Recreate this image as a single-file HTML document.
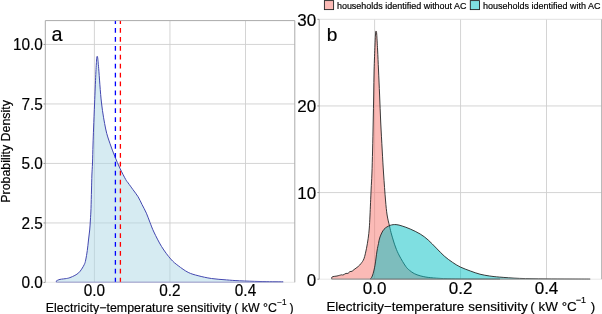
<!DOCTYPE html>
<html lang="en"><head><meta charset="utf-8"><title>Electricity-temperature sensitivity density</title>
<style>
html,body{margin:0;padding:0;background:#fff;}
body{width:602px;height:314px;overflow:hidden;}
svg{display:block;}
text{font-family:'Liberation Sans', sans-serif;fill:#000;stroke:#000;stroke-width:0.18px;}
.grid{stroke:#cfcfcf;stroke-width:0.9;fill:none;}
.border{stroke:#aaaaaa;stroke-width:1;fill:none;}
.tk{stroke:#8c8c8c;stroke-width:0.9;fill:none;}
</style></head><body>
<svg width="602" height="314" viewBox="0 0 602 314">
<rect x="0" y="0" width="602" height="314" fill="#fff"/>

<g class="grid">
<line x1="94.40" y1="20.6" x2="94.40" y2="282.3"/>
<line x1="169.95" y1="20.6" x2="169.95" y2="282.3"/>
<line x1="245.50" y1="20.6" x2="245.50" y2="282.3"/>
<line x1="45.3" y1="222.95" x2="294.8" y2="222.95"/>
<line x1="45.3" y1="163.45" x2="294.8" y2="163.45"/>
<line x1="45.3" y1="103.95" x2="294.8" y2="103.95"/>
<line x1="45.3" y1="44.45" x2="294.8" y2="44.45"/>
</g>
<path d="M56.30,281.00 C56.40,280.93 56.28,280.87 56.90,280.60 C57.52,280.33 58.38,279.75 60.00,279.40 C61.62,279.05 64.93,278.80 66.60,278.50 C68.27,278.20 68.62,278.12 70.00,277.60 C71.38,277.08 73.45,276.20 74.90,275.40 C76.35,274.60 77.58,273.83 78.70,272.80 C79.82,271.77 80.65,270.62 81.60,269.20 C82.55,267.78 83.72,265.83 84.40,264.30 C85.08,262.77 85.22,262.30 85.70,260.00 C86.18,257.70 86.83,253.83 87.30,250.50 C87.77,247.17 88.10,243.42 88.50,240.00 C88.90,236.58 89.38,233.33 89.70,230.00 C90.02,226.67 90.18,223.57 90.40,220.00 C90.62,216.43 90.82,213.60 91.00,208.60 C91.18,203.60 91.35,195.60 91.50,190.00 C91.65,184.40 91.73,179.50 91.90,175.00 C92.07,170.50 92.32,168.00 92.50,163.00 C92.68,158.00 92.82,150.83 93.00,145.00 C93.18,139.17 93.33,135.00 93.60,128.00 C93.87,121.00 94.23,111.93 94.60,103.00 C94.97,94.07 95.47,81.57 95.80,74.40 C96.13,67.23 96.37,63.02 96.60,60.00 C96.83,56.98 96.98,56.38 97.20,56.30 C97.42,56.22 97.65,57.43 97.90,59.50 C98.15,61.57 98.10,61.45 98.70,68.70 C99.30,75.95 100.33,92.95 101.50,103.00 C102.67,113.05 104.30,122.28 105.70,129.00 C107.10,135.72 108.37,138.70 109.90,143.30 C111.43,147.90 113.23,152.45 114.90,156.60 C116.57,160.75 118.10,164.38 119.90,168.20 C121.70,172.02 124.32,177.03 125.70,179.50 C127.08,181.97 126.98,181.30 128.20,183.00 C129.42,184.70 131.35,187.40 133.00,189.70 C134.65,192.00 136.60,194.33 138.10,196.80 C139.60,199.27 140.62,201.77 142.00,204.50 C143.38,207.23 145.07,210.20 146.40,213.20 C147.73,216.20 148.75,219.37 150.00,222.50 C151.25,225.63 151.97,227.98 153.90,232.00 C155.83,236.02 158.80,242.10 161.60,246.60 C164.40,251.10 167.93,255.82 170.70,259.00 C173.47,262.18 175.28,263.47 178.20,265.70 C181.12,267.93 184.88,270.73 188.20,272.40 C191.52,274.07 194.23,274.68 198.10,275.70 C201.97,276.72 206.68,277.80 211.40,278.50 C216.12,279.20 221.68,279.52 226.40,279.90 C231.12,280.28 234.10,280.53 239.70,280.80 C245.30,281.07 252.77,281.33 260.00,281.50 C267.23,281.67 279.25,281.75 283.10,281.80 L283.1,282.3 L56.3,282.3 Z" fill="#add8e6" fill-opacity="0.5" stroke="#4347b0" stroke-width="1.0" stroke-linejoin="miter"/>
<line x1="115.4" y1="19.2" x2="115.4" y2="282.3" stroke="#0000ff" stroke-width="1.3" stroke-dasharray="4.7 4.216"/>
<line x1="120.4" y1="19.2" x2="120.4" y2="282.3" stroke="#ff0000" stroke-width="1.3" stroke-dasharray="4.7 4.216"/>
<rect x="0" y="0" width="310" height="20.6" fill="#fff"/>
<line x1="45.3" y1="282.3" x2="294.8" y2="282.3" stroke="#e2e2e2" stroke-width="0.8"/>
<path class="border" d="M45.3,282.3 V20.6 H294.8 V282.3"/>
<line class="tk" x1="43.5" y1="282.45" x2="45.3" y2="282.45"/>
<line class="tk" x1="43.5" y1="222.95" x2="45.3" y2="222.95"/>
<line class="tk" x1="43.5" y1="163.45" x2="45.3" y2="163.45"/>
<line class="tk" x1="43.5" y1="103.95" x2="45.3" y2="103.95"/>
<line class="tk" x1="43.5" y1="44.45" x2="45.3" y2="44.45"/>
<text transform="translate(42.90,288.40) scale(0.985,1)" font-size="15.6px" text-anchor="end">0.0</text>
<text transform="translate(42.90,228.90) scale(0.985,1)" font-size="15.6px" text-anchor="end">2.5</text>
<text transform="translate(42.90,169.40) scale(0.985,1)" font-size="15.6px" text-anchor="end">5.0</text>
<text transform="translate(42.90,109.90) scale(0.985,1)" font-size="15.6px" text-anchor="end">7.5</text>
<text transform="translate(42.90,50.40) scale(0.985,1)" font-size="15.6px" text-anchor="end">10.0</text>
<text transform="translate(94.40,296.30) scale(0.985,1)" font-size="15.6px" text-anchor="middle">0.0</text>
<text transform="translate(169.95,296.30) scale(0.985,1)" font-size="15.6px" text-anchor="middle">0.2</text>
<text transform="translate(245.50,296.30) scale(0.985,1)" font-size="15.6px" text-anchor="middle">0.4</text>
<text transform="translate(51.60,41.30) scale(1.0,1)" font-size="19.8px" text-anchor="start">a</text>
<text transform="translate(9.5,151.4) rotate(-90) scale(1,0.96)" font-size="12.4px" text-anchor="middle">Probability Density</text>
<text transform="translate(45.70,311.50) scale(1.0,1)" font-size="12.36px" text-anchor="start" xml:space="preserve"><tspan letter-spacing="0.05">Electricity−temperature</tspan><tspan letter-spacing="0.05"> sensitivity</tspan><tspan dx="-0.35"> ( kW °C</tspan><tspan dy="-6.9" dx="0.3" font-size="8.2px">−1</tspan><tspan dy="6.9" dx="-0.5"> )</tspan></text>
<g class="grid">
<line x1="374.60" y1="19.3" x2="374.60" y2="279.2"/>
<line x1="460.55" y1="19.3" x2="460.55" y2="279.2"/>
<line x1="546.50" y1="19.3" x2="546.50" y2="279.2"/>
<line x1="319.2" y1="192.57" x2="601.7" y2="192.57"/>
<line x1="319.2" y1="105.94" x2="601.7" y2="105.94"/>
<line x1="319.2" y1="19.31" x2="601.7" y2="19.31" stroke="#dcdcdc"/>
</g>
<path d="M331.70,277.40 C331.92,277.27 332.12,276.83 333.00,276.60 C333.88,276.37 335.57,276.30 337.00,276.00 C338.43,275.70 340.60,274.97 341.60,274.80 C342.60,274.63 342.27,275.23 343.00,275.00 C343.73,274.77 345.17,273.67 346.00,273.40 C346.83,273.13 347.35,273.70 348.00,273.40 C348.65,273.10 349.23,271.95 349.90,271.60 C350.57,271.25 351.32,271.63 352.00,271.30 C352.68,270.97 352.97,270.40 354.00,269.60 C355.03,268.80 357.03,267.52 358.20,266.50 C359.37,265.48 360.03,264.82 361.00,263.50 C361.97,262.18 363.08,261.13 364.00,258.60 C364.92,256.07 365.80,251.68 366.50,248.30 C367.20,244.92 367.73,241.68 368.20,238.30 C368.67,234.92 369.00,231.88 369.30,228.00 C369.60,224.12 369.70,221.33 370.00,215.00 C370.30,208.67 370.78,196.83 371.10,190.00 C371.42,183.17 371.65,180.67 371.90,174.00 C372.15,167.33 372.38,158.67 372.60,150.00 C372.82,141.33 373.02,131.17 373.20,122.00 C373.38,112.83 373.55,103.67 373.70,95.00 C373.85,86.33 373.88,78.33 374.10,70.00 C374.32,61.67 374.75,51.17 375.00,45.00 C375.25,38.83 375.42,35.30 375.60,33.00 C375.78,30.70 375.92,31.03 376.10,31.20 C376.28,31.37 376.45,30.87 376.70,34.00 C376.95,37.13 377.30,44.00 377.60,50.00 C377.90,56.00 378.17,62.50 378.50,70.00 C378.83,77.50 379.23,86.33 379.60,95.00 C379.97,103.67 380.27,112.83 380.70,122.00 C381.13,131.17 381.72,141.33 382.20,150.00 C382.68,158.67 383.05,165.67 383.60,174.00 C384.15,182.33 384.92,193.17 385.50,200.00 C386.08,206.83 386.43,210.67 387.10,215.00 C387.77,219.33 388.73,222.67 389.50,226.00 C390.27,229.33 390.70,231.50 391.70,235.00 C392.70,238.50 394.20,243.50 395.50,247.00 C396.80,250.50 397.82,252.80 399.50,256.00 C401.18,259.20 403.92,263.80 405.60,266.20 C407.28,268.60 408.15,269.17 409.60,270.40 C411.05,271.63 412.53,272.70 414.30,273.60 C416.07,274.50 417.88,275.17 420.20,275.80 C422.52,276.43 424.90,276.97 428.20,277.40 C431.50,277.83 435.40,278.15 440.00,278.40 C444.60,278.65 449.13,278.78 455.80,278.90 C462.47,279.02 472.63,279.05 480.00,279.10 C487.37,279.15 496.67,279.18 500.00,279.20 L331.7,279.2 Z" fill="#f8766d" fill-opacity="0.5" stroke="#262626" stroke-width="0.9" stroke-linejoin="miter"/>
<path d="M370.10,279.20 C370.33,278.93 371.00,278.53 371.50,277.60 C372.00,276.67 372.52,275.67 373.10,273.60 C373.68,271.53 374.35,268.97 375.00,265.20 C375.65,261.43 376.42,254.62 377.00,251.00 C377.58,247.38 378.00,245.83 378.50,243.50 C379.00,241.17 379.08,239.37 380.00,237.00 C380.92,234.63 382.32,231.23 384.00,229.30 C385.68,227.37 388.08,226.18 390.10,225.40 C392.12,224.62 394.10,224.50 396.10,224.60 C398.10,224.70 399.75,225.27 402.10,226.00 C404.45,226.73 407.18,227.67 410.20,229.00 C413.22,230.33 417.20,232.17 420.20,234.00 C423.20,235.83 425.52,237.65 428.20,240.00 C430.88,242.35 433.62,245.42 436.30,248.10 C438.98,250.78 441.63,253.75 444.30,256.10 C446.97,258.45 449.63,260.38 452.30,262.20 C454.97,264.02 457.28,265.53 460.30,267.00 C463.32,268.47 467.12,269.80 470.40,271.00 C473.68,272.20 476.78,273.37 480.00,274.20 C483.22,275.03 486.42,275.52 489.70,276.00 C492.98,276.48 494.72,276.70 499.70,277.10 C504.68,277.50 512.05,278.10 519.60,278.40 C527.15,278.70 536.60,278.78 545.00,278.90 C553.40,279.02 562.47,279.05 570.00,279.10 C577.53,279.15 586.83,279.18 590.20,279.20 Z" fill="#00bfc4" fill-opacity="0.5" stroke="#262626" stroke-width="0.9" stroke-linejoin="miter"/>
<line x1="319.2" y1="279.2" x2="601.7" y2="279.2" stroke="#e2e2e2" stroke-width="0.8"/>
<path class="border" d="M319.2,279.2 V19.3 M601.7,19.3 V279.2"/>
<line class="tk" x1="317.4" y1="279.20" x2="319.2" y2="279.20"/>
<line class="tk" x1="317.4" y1="192.57" x2="319.2" y2="192.57"/>
<line class="tk" x1="317.4" y1="105.94" x2="319.2" y2="105.94"/>
<line class="tk" x1="317.4" y1="19.31" x2="319.2" y2="19.31"/>
<text transform="translate(316.10,285.70) scale(1.0,1)" font-size="17.0px" text-anchor="end">0</text>
<text transform="translate(316.10,199.07) scale(1.0,1)" font-size="17.0px" text-anchor="end">10</text>
<text transform="translate(316.10,112.44) scale(1.0,1)" font-size="17.0px" text-anchor="end">20</text>
<text transform="translate(316.10,25.81) scale(1.0,1)" font-size="17.0px" text-anchor="end">30</text>
<text transform="translate(374.60,294.00) scale(1.0,1)" font-size="17.0px" text-anchor="middle">0.0</text>
<text transform="translate(460.55,294.00) scale(1.0,1)" font-size="17.0px" text-anchor="middle">0.2</text>
<text transform="translate(546.50,294.00) scale(1.0,1)" font-size="17.0px" text-anchor="middle">0.4</text>
<text transform="translate(326.70,41.40) scale(1.0,1)" font-size="19.1px" text-anchor="start">b</text>
<text transform="translate(326.40,310.50) scale(1.0,1)" font-size="13.42px" text-anchor="start" xml:space="preserve"><tspan letter-spacing="0.02">Electricity−temperature</tspan><tspan letter-spacing="0.14"> sensitivity</tspan><tspan dx="-1.2"> ( kW °C</tspan><tspan dy="-7.4" dx="-0.9" font-size="8.9px">−1</tspan><tspan dy="7.4" dx="1.0"> )</tspan></text>
<rect x="324.4" y="0.6" width="9.2" height="9.0" fill="#fbbab6" stroke="#222" stroke-width="0.9"/>
<text transform="translate(336.90,8.50) scale(1.0,1)" font-size="8.97px" text-anchor="start">households identified without AC</text>
<rect x="470.3" y="0.6" width="9.2" height="9.0" fill="#7fdfe1" stroke="#222" stroke-width="0.9"/>
<text transform="translate(483.00,8.50) scale(1.0,1)" font-size="9.0px" text-anchor="start">households identified with AC</text>
</svg></body></html>
